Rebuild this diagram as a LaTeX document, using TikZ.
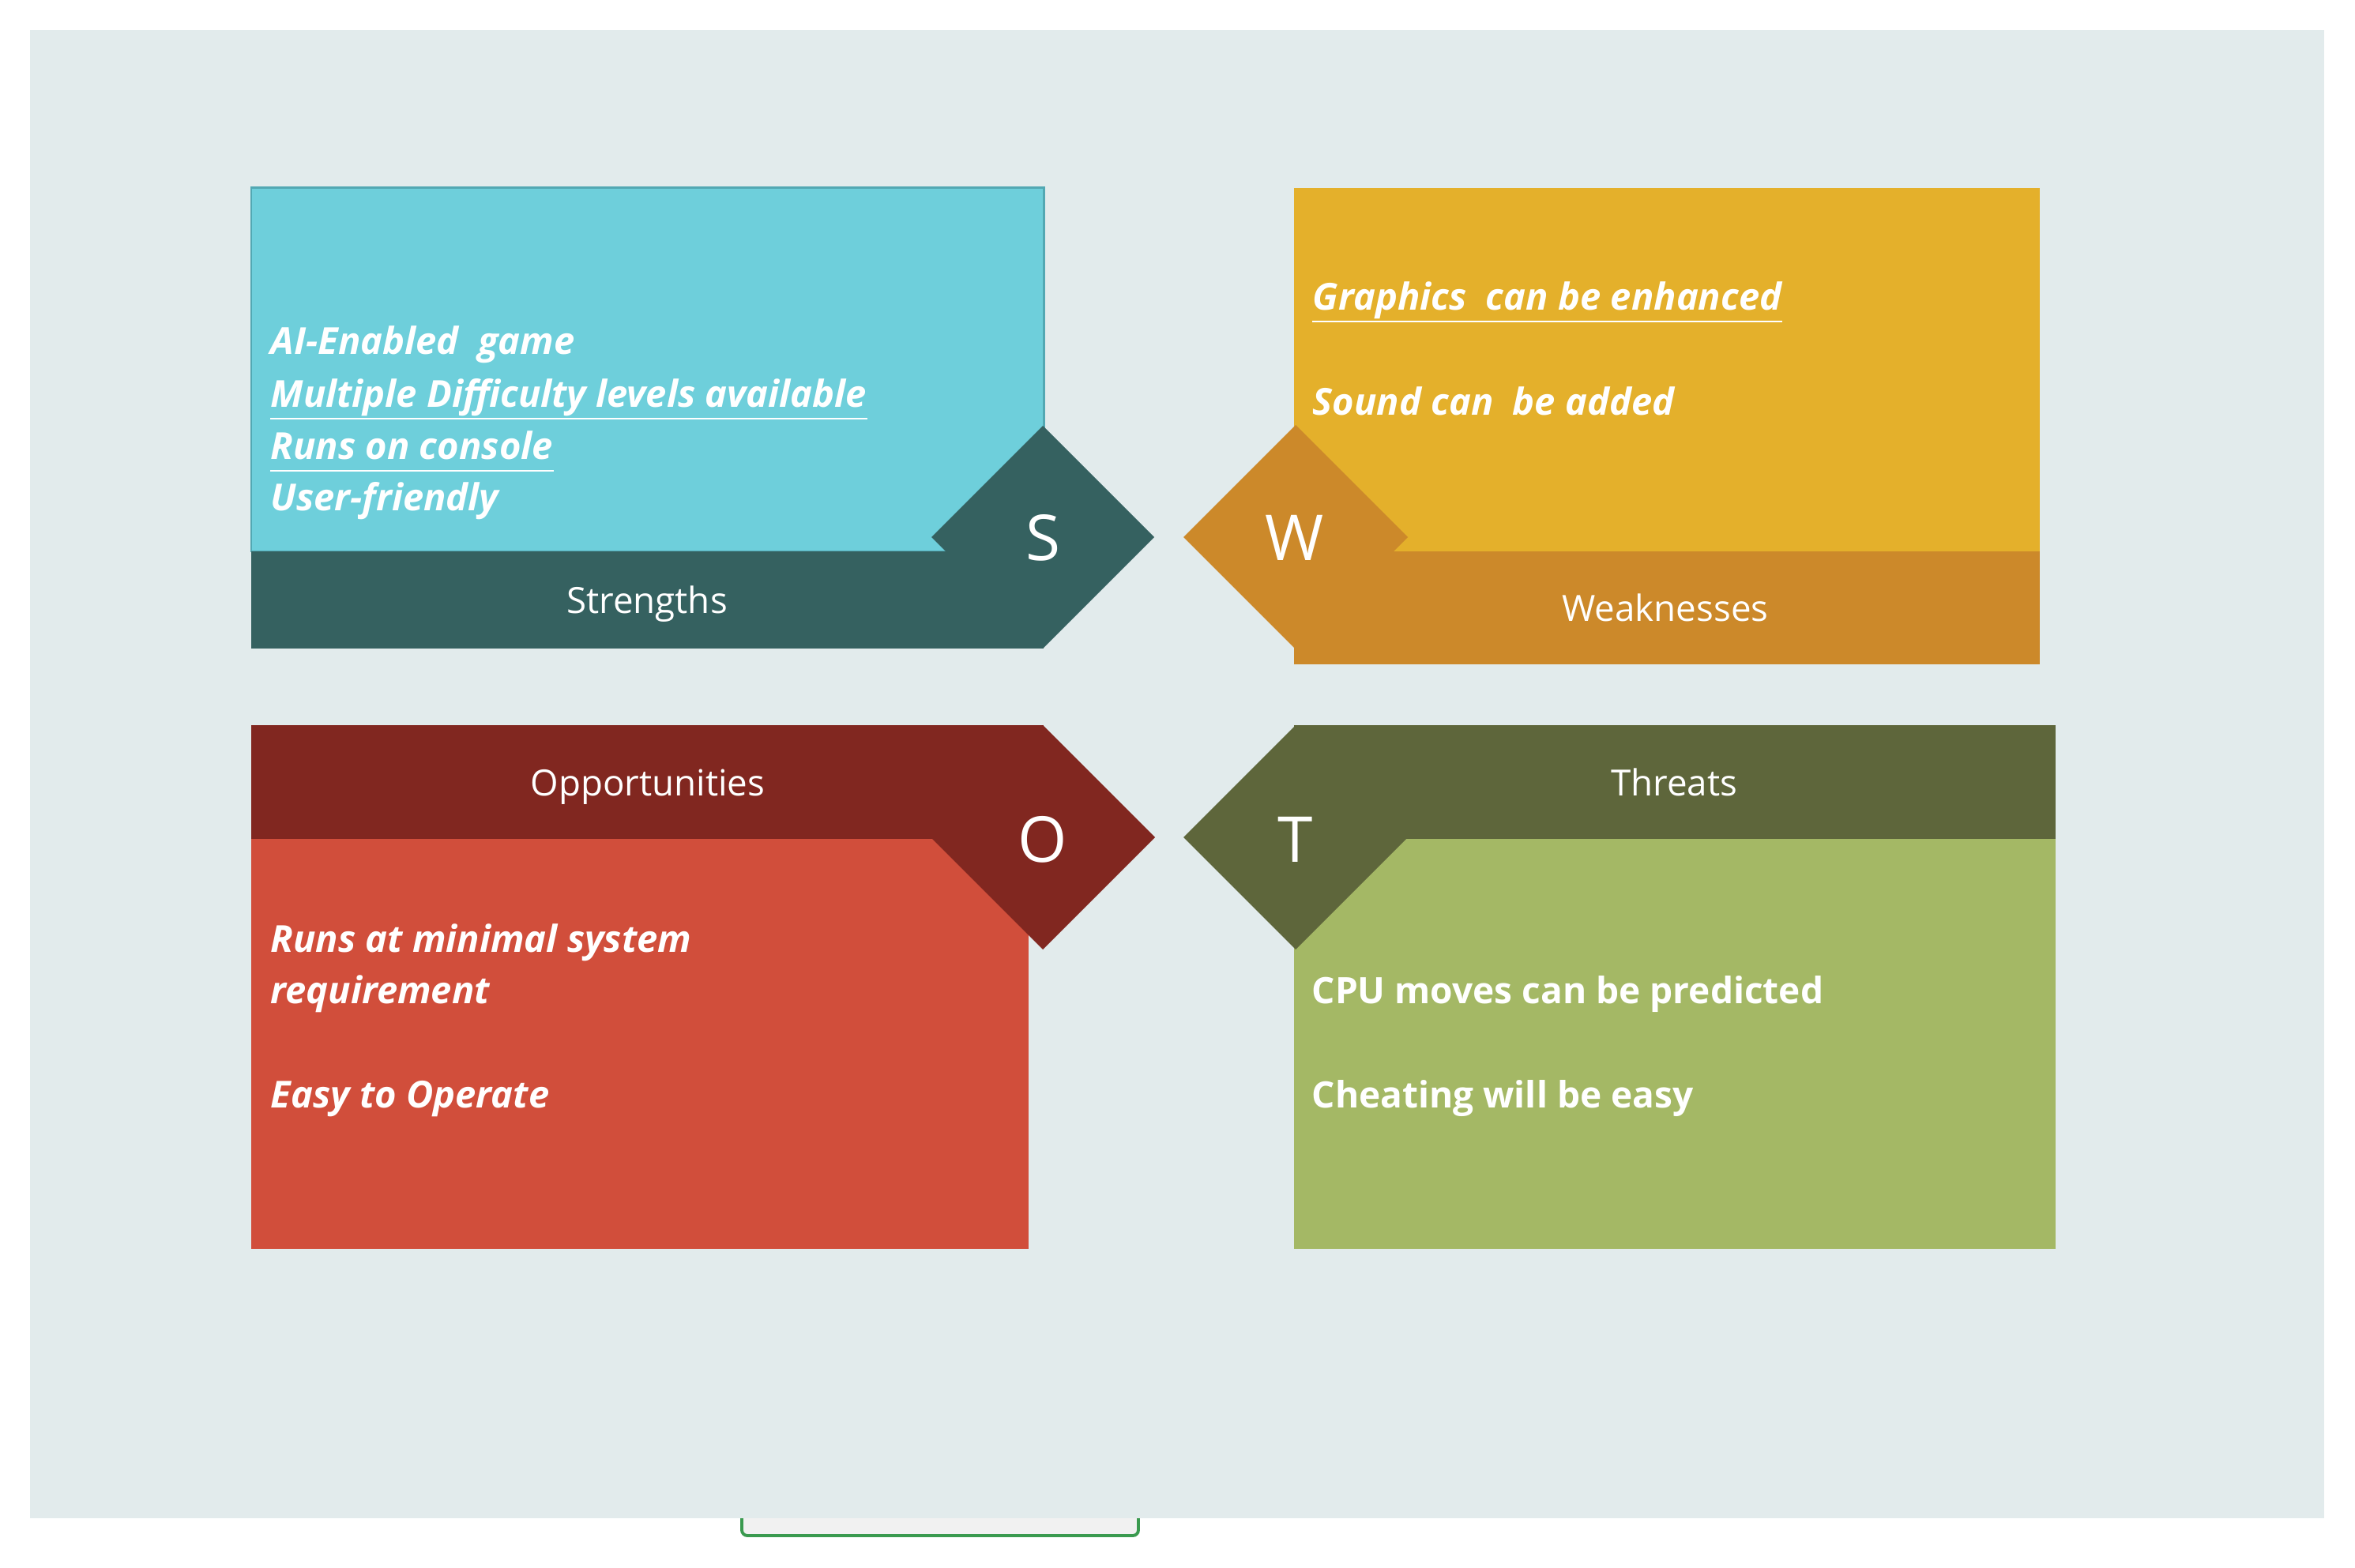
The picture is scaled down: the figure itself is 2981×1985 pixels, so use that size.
\documentclass[tikz,border=0pt]{standalone}
\usepackage{fontspec}
\setmainfont{Open Sans}
\definecolor{panel}{HTML}{E2EBEC}
\definecolor{scyan}{HTML}{6ECFDB}
\definecolor{sborder}{HTML}{52A8B3}
\definecolor{sdark}{HTML}{356160}
\definecolor{wyellow}{HTML}{E4B02B}
\definecolor{wdark}{HTML}{CC892A}
\definecolor{ored}{HTML}{D14E3B}
\definecolor{odark}{HTML}{812720}
\definecolor{tgreen}{HTML}{A4B865}
\definecolor{tdark}{HTML}{5E663B}
\definecolor{tabfill}{HTML}{F1F1F1}
\definecolor{tabline}{HTML}{3A9A4F}
\begin{document}
\begin{tikzpicture}[x=0.1mm,y=-0.1mm,
  bodytxt/.style={anchor=base west, inner sep=0pt, text=white,
    font=\fontsize{13.4pt}{16pt}\selectfont\bfseries\itshape},
  bodyup/.style={bodytxt, font=\fontsize{13.1pt}{16pt}\selectfont\bfseries},
  headtxt/.style={anchor=base, inner sep=0pt, text=white,
    font=\fontsize{13pt}{16pt}\selectfont},
  lettertxt/.style={inner sep=0pt, text=white,
    font=\fontsize{22.8pt}{26pt}\selectfont},
  underl/.style={draw=white, line width=0.75pt}
]
\useasboundingbox (0,0) rectangle (2981,1985);
\fill[white] (0,0) rectangle (2981,1985);

% tab peeking out below the panel
\draw[fill=tabfill, draw=tabline, line width=1.1pt, rounded corners=2pt]
  (939,1850) rectangle (1441,1944);

% panel
\fill[panel] (38,38) rectangle (2942,1922);

% ---------- Strengths ----------
\filldraw[fill=scyan, draw=sborder, line width=0.85pt] (318,238) rectangle (1321,698);
\fill[sdark] (318,698) rectangle (1321,821);
\fill[sdark] (1179,680) -- (1320,539) -- (1461,680) -- (1320,821) -- cycle;

% ---------- Weaknesses ----------
\fill[wyellow] (1638,238) rectangle (2582,698);
\fill[wdark] (1638,698) rectangle (2582,841);
\fill[wdark] (1498,680) -- (1640,538) -- (1782,680) -- (1640,822) -- cycle;

% ---------- Opportunities ----------
\fill[ored] (318,1062) rectangle (1302,1581);
\fill[odark] (318,918) rectangle (1321,1062);
\fill[odark] (1178,1060) -- (1320,918) -- (1462,1060) -- (1320,1202) -- cycle;

% ---------- Threats ----------
\fill[tgreen] (1638,1062) rectangle (2602,1581);
\fill[tdark] (1638,918) rectangle (2602,1062);
\fill[tdark] (1498,1060) -- (1640,918) -- (1782,1060) -- (1640,1202) -- cycle;

% letters
\node[lettertxt] (ls) at (1320,681) {S};
\node[lettertxt] (lw) at (1639,681) {W};
\node[lettertxt] (lo) at (1320,1063) {O};
\node[lettertxt] (lt) at (1640,1063) {T};

% headings
\node[headtxt] (hs) at (819,777) {Strengths};
\node[headtxt] (hw) at (2108,787) {Weaknesses};
\node[headtxt] (ho) at (820,1007) {Opportunities};
\node[headtxt] (ht) at (2119,1007) {Threats};

% strengths items
\node[bodytxt] (s1) at (342,449) {AI-Enabled\ \ game};
\node[bodytxt] (s2) at (342,516) {Multiple Difficulty levels available};
\node[bodytxt] (s3) at (342,582) {Runs on console};
\node[bodytxt] (s4) at (342,647) {User-friendly};
\draw[underl] ([yshift=-4]s2.base west) -- ([yshift=-4]s2.base east);
\draw[underl] ([yshift=-4]s3.base west) -- ([yshift=-4]s3.base east);

% weaknesses items
\node[bodytxt] (w1) at (1661,393) {Graphics\ \ can be enhanced};
\node[bodytxt] (w2) at (1661,526) {Sound can\ \ be added};
\draw[underl] ([yshift=-4]w1.base west) -- ([yshift=-4]w1.base east);

% opportunities items
\node[bodytxt] (o1) at (342,1205) {Runs at minimal system};
\node[bodytxt] (o2) at (342,1270) {requirement};
\node[bodytxt] (o3) at (342,1402) {Easy to Operate};

% threats items
\node[bodyup] (t1) at (1660,1270) {CPU moves can be predicted};
\node[bodyup] (t2) at (1660,1402) {Cheating will be easy};
\end{tikzpicture}
\end{document}
